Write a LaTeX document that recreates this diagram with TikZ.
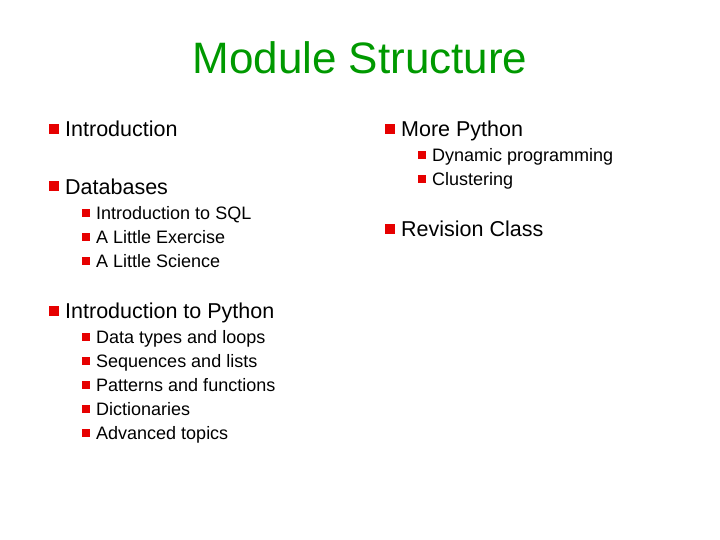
\documentclass[tikz,border=0pt]{standalone}
\usepackage{fontspec}
\setmainfont{Liberation Sans}
\definecolor{ttl}{RGB}{0,153,0}
\definecolor{bul}{RGB}{230,0,0}
\begin{document}
\begin{tikzpicture}[x=1pt,y=-1pt,
  ttlstyle/.style={text=ttl,font=\fontsize{44}{48}\selectfont,anchor=center,text height=32pt,text depth=0pt,inner sep=0pt},
  la/.style={anchor=west,font=\fontsize{21.5}{24}\selectfont,inner sep=0pt,text height=15pt,text depth=0pt},
  lb/.style={anchor=west,font=\fontsize{18}{20}\selectfont,inner sep=0pt,text height=13pt,text depth=0pt},
  ba/.style={fill=bul,minimum size=9.5pt,inner sep=0pt},
  bb/.style={fill=bul,minimum size=8pt,inner sep=0pt}]
\useasboundingbox (0,0) rectangle (720,540);
\node[ttlstyle] (t) at (360,58) {Module Structure};
% left column
\node[ba] (b1) at (54,129) {}; \node[la] (i1) at (65,129) {Introduction};
\node[ba] (b2) at (54,186) {}; \node[la] (i2) at (65,187) {Databases};
\node[bb] (b21) at (86,213) {}; \node[lb] (i21) at (96,213) {Introduction to SQL};
\node[bb] (b22) at (86,237) {}; \node[lb] (i22) at (96,237) {A Little Exercise};
\node[bb] (b23) at (86,261) {}; \node[lb] (i23) at (96,261) {A Little Science};
\node[ba] (b3) at (54,311) {}; \node[la] (i3) at (65,311) {Introduction to Python};
\node[bb] (b31) at (86,337) {}; \node[lb] (i31) at (96,337) {Data types and loops};
\node[bb] (b32) at (86,361) {}; \node[lb] (i32) at (96,361) {Sequences and lists};
\node[bb] (b33) at (86,385) {}; \node[lb] (i33) at (96,385) {Patterns and functions};
\node[bb] (b34) at (86,409) {}; \node[lb] (i34) at (96,409) {Dictionaries};
\node[bb] (b35) at (86,433) {}; \node[lb] (i35) at (96,433) {Advanced topics};
% right column
\node[ba] (c1) at (390,129) {}; \node[la] (j1) at (401,129) {More Python};
\node[bb] (c11) at (422,155) {}; \node[lb] (j11) at (432,155) {Dynamic programming};
\node[bb] (c12) at (422,179) {}; \node[lb] (j12) at (432,179) {Clustering};
\node[ba] (c2) at (390,229) {}; \node[la] (j2) at (401,229) {Revision Class};
\end{tikzpicture}
\end{document}
